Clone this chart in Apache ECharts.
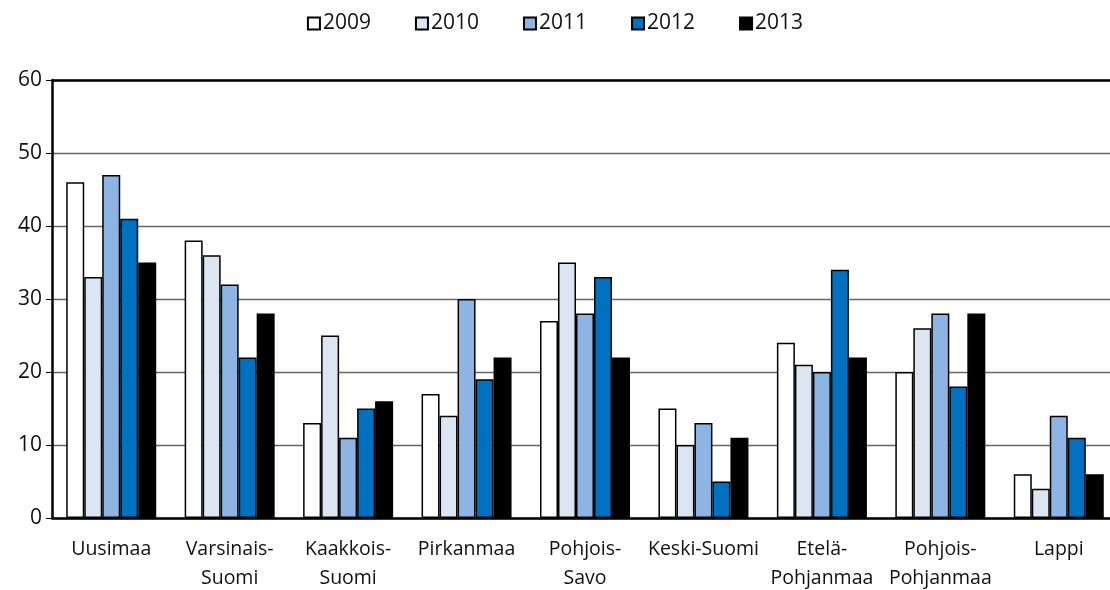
<!DOCTYPE html>
<html>
<head>
<meta charset="utf-8">
<script src="https://cdn.jsdelivr.net/npm/echarts@6/dist/echarts.min.js"></script>
<style>html,body{margin:0;padding:0;background:#fff}#c{width:1110px;height:590px}</style>
</head>
<body>
<div id="c"></div>
<script>
const categories = ['Uusimaa','Varsinais-\nSuomi','Kaakkois-\nSuomi','Pirkanmaa','Pohjois-\nSavo','Keski-Suomi','Etelä-\nPohjanmaa','Pohjois-\nPohjanmaa','Lappi'];
const years = ['2009','2010','2011','2012','2013'];
const v2009 = [46,38,13,17,27,15,24,20,6];
const v2010 = [33,36,25,14,35,10,21,26,4];
const v2011 = [47,32,11,30,28,13,20,28,14];
const v2012 = [41,22,15,19,33,5,34,18,11];
const v2013 = [35,28,16,22,22,11,22,28,6];
const yTicks = [0,10,20,30,40,50,60];

const values = [v2009,v2010,v2011,v2012,v2013];
const colors = ['#ffffff','#dce6f2','#8eb4e3','#0070c0','#000000'];
const font = '"Open Sans","Liberation Sans",sans-serif';

const chart = echarts.init(document.getElementById('c'));
chart.setOption({
  animation:false,
  legend:{
    top:8, left:'center', icon:'rect', itemWidth:12, itemHeight:12, itemGap:44,
    textStyle:{fontFamily:font,fontSize:21,color:'#111',padding:[0,0,0,-2]},
    data:years
  },
  grid:{left:52, top:80, width:1066, height:438, containLabel:false, outerBoundsMode:'none'},
  xAxis:{
    type:'category', data:categories,
    axisLine:{lineStyle:{color:'#000',width:2.5}},
    axisTick:{show:false},
    axisLabel:{fontFamily:font,fontSize:19.5,color:'#111',lineHeight:29,margin:17,interval:0}
  },
  yAxis:{
    type:'value', min:yTicks[0], max:yTicks[yTicks.length-1], interval:10,
    axisLine:{show:true,lineStyle:{color:'#000',width:2.5}},
    axisTick:{show:true,length:6,lineStyle:{color:'#000'}},
    axisLabel:{fontFamily:font,fontSize:21,color:'#111',margin:10},
    splitLine:{lineStyle:{color:'#666',width:1.3}}
  },
  series: years.map((y,i)=>({
    name:y, type:'bar', data:values[i], barWidth:18, barGap:'0%',
    itemStyle:{color:colors[i], borderColor:'#000', borderWidth:1.5}
  })).concat([{
    type:'line', data:[], markLine:{silent:true,symbol:'none',label:{show:false},
      lineStyle:{color:'#000',width:2.5,type:'solid'},data:[{yAxis:60}]}
  }])
});
</script>
</body>
</html>
